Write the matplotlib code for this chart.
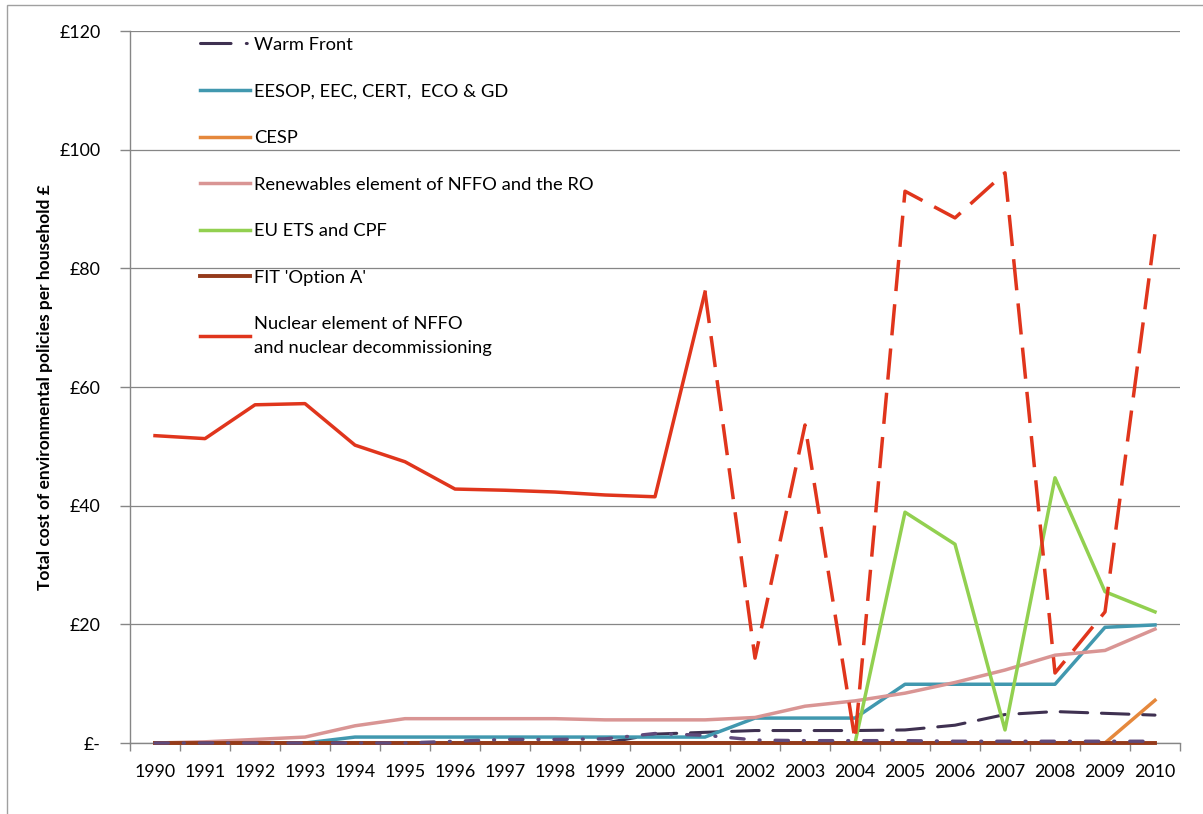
import numpy as np
import matplotlib
matplotlib.use("Agg")
import matplotlib.pyplot as plt
from matplotlib.lines import Line2D
from matplotlib.patches import Rectangle

plt.rcParams['font.family'] = ['Lato', 'DejaVu Sans']

years = np.arange(1990, 2011)

# £ per household
warm_front = [0, 0, 0, 0, 0, 0, 0, 0, 0, 0, 1.5, 1.8, 2.1, 2.1, 2.1, 2.2, 3.0, 4.8, 5.3, 5.0, 4.7]
warm_front_low = [0, 0, 0, 0, 0, 0, 0.3, 0.6, 0.6, 0.7, 1.6, 1.3, 0.5, 0.4, 0.4, 0.4, 0.3, 0.3, 0.3, 0.3, 0.3]
eesop = [0, 0, 0, 0, 1.0, 1.0, 1.0, 1.0, 1.0, 1.0, 1.0, 1.0, 4.2, 4.2, 4.2, 9.9, 9.9, 9.9, 9.9, 19.5, 19.9]
cesp = [0, 0, 0, 0, 0, 0, 0, 0, 0, 0, 0, 0, 0, 0, 0, 0, 0, 0, 0, 0, 7.2]
renewables = [0, 0.2, 0.6, 1.0, 2.9, 4.1, 4.1, 4.1, 4.1, 3.9, 3.9, 3.9, 4.3, 6.2, 7.1, 8.4, 10.2, 12.3, 14.8, 15.6, 19.2]
eu_ets = [0, 0, 0, 0, 0, 0, 0, 0, 0, 0, 0, 0, 0, 0, 0, 38.9, 33.5, 2.2, 44.7, 25.5, 22.1]
fit_a = [0] * 21
nuclear = [51.8, 51.3, 57.0, 57.2, 50.2, 47.4, 42.8, 42.6, 42.3, 41.8, 41.5, 76.0, 14.3, 53.6, 0.5,
           93.0, 88.5, 96.1, 11.8, 22.1, 86.0]

yticks = [0, 20, 40, 60, 80, 100, 120]
ytick_labels = ['£-', '£20', '£40', '£60', '£80', '£100', '£120']

labels = ['Warm Front', 'EESOP, EEC, CERT,  ECO & GD', 'CESP',
          'Renewables element of NFFO and the RO', 'EU ETS and CPF', "FIT 'Option A'",
          'Nuclear element of NFFO\nand nuclear decommissioning']

c_wf = '#3f3151'
c_wf2 = '#604a7b'
c_teal = '#4198af'
c_orange = '#e5883c'
c_pink = '#d99594'
c_green = '#92d050'
c_brown = '#953a1b'
c_red = '#e0351c'

fig = plt.figure(figsize=(12.03, 8.14), dpi=100)
ax = fig.add_axes([130 / 1203, 1 - 743 / 814, 1050 / 1203, 712 / 814])

# outer chart border
fig.patches.append(Rectangle((7 / 1203, -0.1), 1.2, 1 - 5 / 814 + 0.1, transform=fig.transFigure,
                             fill=False, edgecolor='#a0a0a0', lw=1.0))

lw = 2.5
ln_wf, = ax.plot(years, warm_front, color=c_wf, lw=2.2, dashes=(9, 4.5), dash_capstyle='round', clip_on=False, zorder=3)
ln_teal, = ax.plot(years, eesop, color=c_teal, lw=lw, clip_on=False, zorder=3)
ln_or, = ax.plot(years, cesp, color=c_orange, lw=lw, clip_on=False, zorder=3)
ln_pink, = ax.plot(years, renewables, color=c_pink, lw=lw, clip_on=False, zorder=3)
ln_green, = ax.plot(years, eu_ets, color=c_green, lw=lw, clip_on=False, zorder=3)
ln_brown, = ax.plot(years, fit_a, color=c_brown, lw=2.8, clip_on=False, zorder=4)
ax.plot(years, warm_front_low, color=c_wf2, lw=2.4, dashes=(4, 4.5, 0.3, 4.5), dash_capstyle='round',
        clip_on=False, zorder=5)
ln_red, = ax.plot(years[:12], nuclear[:12], color=c_red, lw=lw, clip_on=False, zorder=4)
ax.plot(years[11:], nuclear[11:], color=c_red, lw=lw, dashes=(9, 3.8), clip_on=False, zorder=4)

ax.set_xlim(1989.5, 2010.5)
ax.set_ylim(0, 120)
ax.set_yticks(yticks)
ax.set_yticklabels(ytick_labels)
ax.set_xticks(years)
ax.set_xticklabels([str(y) for y in years])
ax.set_xticks(np.arange(1989.5, 2011, 1), minor=True)
ax.tick_params(axis='x', which='major', length=0, pad=15, labelsize=12.8)
ax.tick_params(axis='x', which='minor', length=6, direction='out', color='#868686', width=1)
ax.tick_params(axis='y', length=7, direction='out', color='#868686', width=1, pad=14, labelsize=12.8)

ax.grid(axis='y', color='#868686', lw=0.9)
ax.set_axisbelow(True)
for s in ['top', 'right']:
    ax.spines[s].set_visible(False)
for s in ['left', 'bottom']:
    ax.spines[s].set_color('#868686')
    ax.spines[s].set_linewidth(1)

ax.set_ylabel('Total cost of environmental policies per household £', fontsize=12.5,
              fontweight='bold', labelpad=5)

wf_handle = Line2D([], [], color=c_wf, lw=2.2, dashes=(10, 5, 0.3, 5), dash_capstyle='round')
handles = [wf_handle, ln_teal, ln_or, ln_pink, ln_green, ln_brown, ln_red]
leg = ax.legend(handles, labels, loc='upper left', bbox_to_anchor=(70 / 1050, 0.992),
                frameon=False, fontsize=13.2, borderpad=0, borderaxespad=0,
                handlelength=2.75, handletextpad=0.22, labelspacing=1.67)
leg.get_texts()[-1].set_linespacing(1.58)

fig.savefig('out.png', dpi=100)
